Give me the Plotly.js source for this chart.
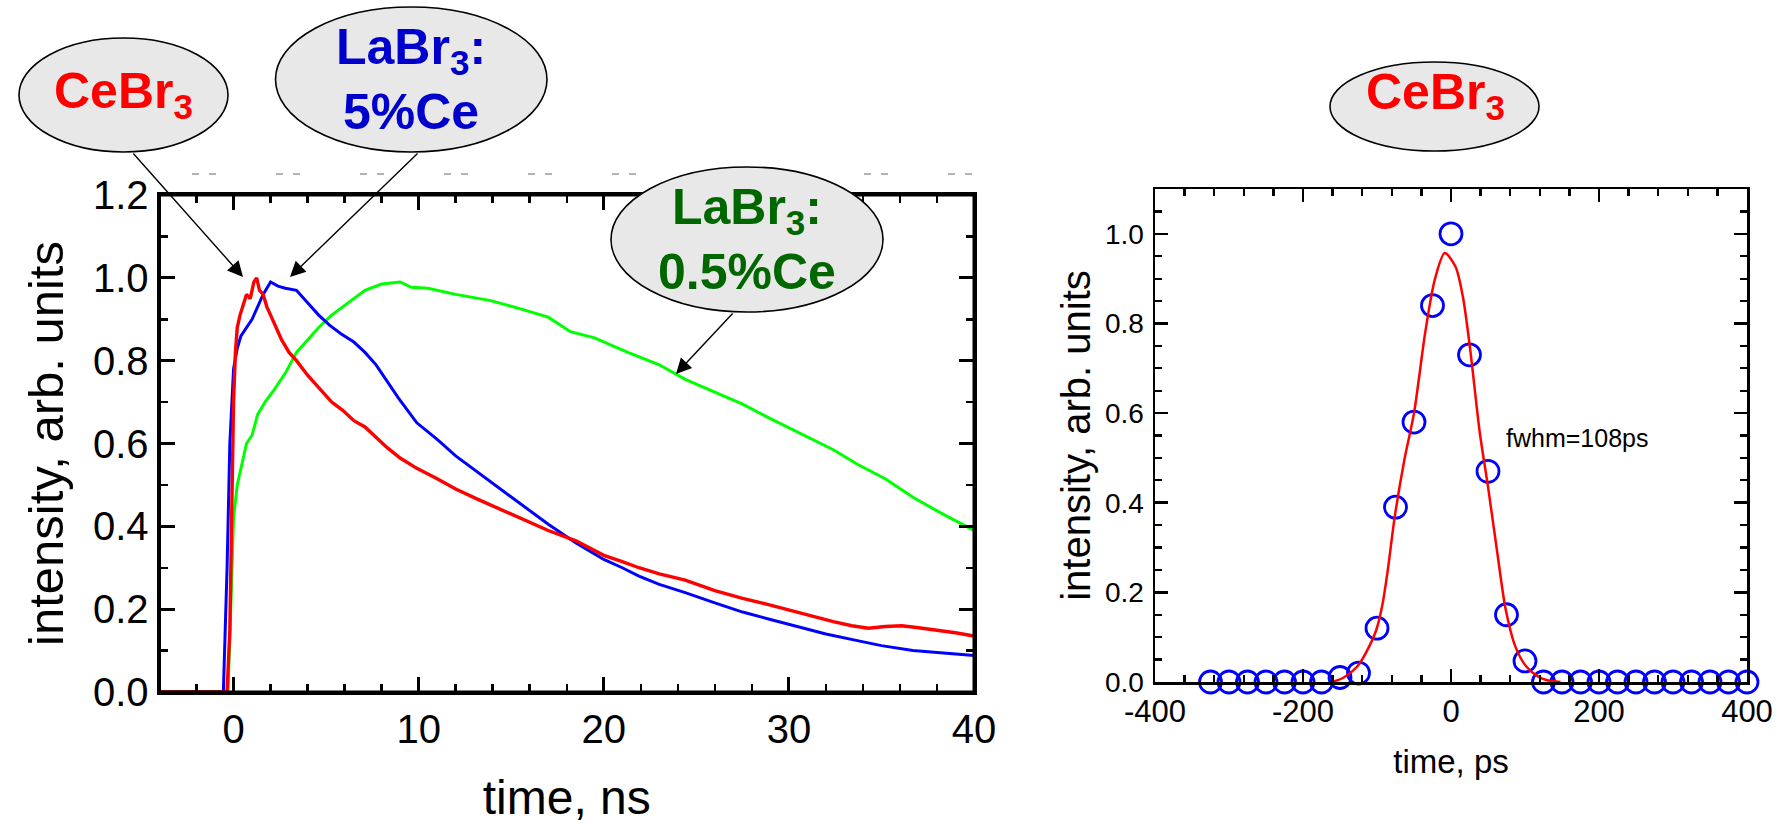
<!DOCTYPE html>
<html><head><meta charset="utf-8">
<script src="https://cdn.plot.ly/plotly-3.0.1.min.js"></script>
<style>html,body{margin:0;padding:0;background:#fff}#chart{width:1789px;height:828px}</style>
</head><body><div id="chart"></div>
<script>
// ---------- data: left panel (decay curves, time in ns) ----------
const tRed = [-4, -0.35, -0.2, -0.1, 0, 0.1, 0.2, 0.35, 0.5, 0.7, 0.9, 1.1, 1.25, 1.4, 1.6, 1.8, 2.0, 2.3, 2.6, 3.0, 3.4, 4.0, 4.6, 5.3, 5.9, 6.5, 7.1, 7.7, 8.3, 9.0, 9.9, 11.0, 12.0, 13.2, 14.5, 15.8, 17.0, 18.5, 20.0, 21.0, 21.9, 23.0, 24.4, 26.0, 27.5, 29.0, 30.0, 31.2, 32.4, 33.4, 34.3, 35.2, 36.1, 37.0, 38.0, 39.0, 40.0];
const yRed = [0, 0, 0.15, 0.45, 0.70, 0.82, 0.88, 0.91, 0.93, 0.96, 0.95, 0.99, 1.0, 0.97, 0.96, 0.93, 0.91, 0.88, 0.85, 0.82, 0.80, 0.765, 0.735, 0.70, 0.68, 0.655, 0.64, 0.615, 0.59, 0.565, 0.54, 0.515, 0.49, 0.465, 0.44, 0.415, 0.39, 0.365, 0.33, 0.315, 0.30, 0.285, 0.27, 0.245, 0.226, 0.21, 0.198, 0.185, 0.17, 0.16, 0.154, 0.158, 0.16, 0.155, 0.15, 0.143, 0.135];

const tBlue = [-4, -0.55, -0.35, -0.2, 0, 0.2, 0.4, 0.7, 1.0, 1.3, 1.6, 2.0, 2.4, 2.8, 3.4, 4.0, 4.6, 5.2, 5.8, 6.5, 7.1, 7.7, 8.3, 8.9, 9.9, 11.0, 12.0, 13.2, 14.5, 15.8, 17.0, 18.5, 20.0, 21.0, 21.9, 23.0, 24.4, 26.0, 27.5, 29.0, 30.6, 32.0, 33.7, 35.0, 36.7, 38.3, 40.0];
const yBlue = [0, 0, 0.3, 0.6, 0.78, 0.83, 0.86, 0.88, 0.9, 0.93, 0.96, 0.99, 0.98, 0.975, 0.97, 0.94, 0.91, 0.885, 0.865, 0.845, 0.82, 0.79, 0.75, 0.71, 0.65, 0.61, 0.57, 0.53, 0.487, 0.445, 0.405, 0.36, 0.32, 0.3, 0.28, 0.26, 0.24, 0.215, 0.193, 0.175, 0.157, 0.14, 0.124, 0.112, 0.10, 0.094, 0.088];

const tGreen = [-4, -0.3, -0.15, 0, 0.2, 0.4, 0.7, 1.0, 1.3, 1.7, 2.2, 2.8, 3.4, 4.0, 4.6, 5.3, 5.9, 6.5, 7.1, 8.0, 9.0, 9.6, 10.5, 12.0, 13.9, 15.5, 17.0, 18.2, 19.5, 21.3, 23.0, 24.4, 26.0, 27.5, 29.0, 30.6, 32.4, 33.7, 35.2, 36.7, 38.3, 40.0];
const yGreen = [0, 0, 0.2, 0.42, 0.5, 0.54, 0.6, 0.62, 0.67, 0.7, 0.73, 0.77, 0.82, 0.85, 0.88, 0.91, 0.93, 0.95, 0.97, 0.985, 0.99, 0.977, 0.975, 0.96, 0.945, 0.925, 0.905, 0.87, 0.855, 0.82, 0.79, 0.755, 0.725, 0.695, 0.66, 0.625, 0.585, 0.55, 0.515, 0.47, 0.43, 0.39];

// ---------- data: right panel (time resolution, ps) ----------
const psX = [-325, -300, -275, -250, -225, -200, -175, -150, -125, -100, -75, -50, -25, 0, 25, 50, 75, 100, 125, 150, 175, 200, 225, 250, 275, 300, 325, 350, 375, 400];
const psY = [0, 0, 0, 0, 0, 0, 0, 0.01, 0.02, 0.12, 0.39, 0.58, 0.84, 1.0, 0.73, 0.47, 0.15, 0.047, 0, 0, 0, 0, 0, 0, 0, 0, 0, 0, 0, 0];
const fitX = [-160, -145, -127, -115, -101, -93, -86, -76, -63, -50, -35, -22, -8.5, 6, 16, 26, 39, 50, 62, 74, 87, 102, 118, 130, 148];
const fitY = [0, 0.01, 0.034, 0.065, 0.116, 0.17, 0.243, 0.369, 0.496, 0.60, 0.778, 0.897, 0.957, 0.927, 0.86, 0.741, 0.555, 0.436, 0.295, 0.161, 0.079, 0.034, 0.012, 0.004, 0];

// ---------- tick labels ----------
const leftXTicks = [0, 10, 20, 30, 40];
const leftYTicks = [0, 0.2, 0.4, 0.6, 0.8, 1.0, 1.2];
const rightXTicks = [-400, -200, 0, 200, 400];
const rightXText = ['-400', '-200', '0', '200', '400'];
const rightYTicks = [0, 0.2, 0.4, 0.6, 0.8, 1.0];
const labelCe = '<b>CeBr<sub>3</sub></b>';
const labelLa5 = '<b>LaBr<sub>3</sub>:<br>5%Ce</b>';
const labelLa05 = '<b>LaBr<sub>3</sub>:<br>0.5%Ce</b>';
const fwhmText = 'fwhm=108ps';

// ---------- layout helpers ----------
const W = 1789, H = 828;
const px = v => v / W;
const py = v => 1 - v / H;
const FONT = 'Liberation Sans, Arial, Helvetica, sans-serif';

const traces = [
  {x: tGreen, y: yGreen, xaxis: 'x', yaxis: 'y', mode: 'lines', line: {color: '#00ff00', width: 3}, name: 'LaBr3:0.5%Ce'},
  {x: tBlue, y: yBlue, xaxis: 'x', yaxis: 'y', mode: 'lines', line: {color: '#0000ff', width: 3}, name: 'LaBr3:5%Ce'},
  {x: tRed, y: yRed, xaxis: 'x', yaxis: 'y', mode: 'lines', line: {color: '#ff0000', width: 3.4}, name: 'CeBr3'},
  // empty helper traces so the top / right frame axes of the left panel get drawn
  {x: [], y: [], xaxis: 'x3', yaxis: 'y', mode: 'lines', hoverinfo: 'skip', name: 'top frame'},
  {x: [], y: [], xaxis: 'x', yaxis: 'y3', mode: 'lines', hoverinfo: 'skip', name: 'right frame'},
  {x: psX, y: psY, xaxis: 'x2', yaxis: 'y2', mode: 'markers', cliponaxis: false,
   marker: {symbol: 'circle-open', size: 22, color: '#0000ff', line: {width: 2.8, color: '#0000ff'}}, name: 'data'},
  {x: fitX, y: fitY, xaxis: 'x2', yaxis: 'y2', mode: 'lines', line: {color: '#ff0000', width: 2.5, shape: 'spline', smoothing: 0.8}, name: 'fit'}
];

const leftXStyle = {
  range: [-4, 40], showgrid: false, zeroline: false, showline: true, linecolor: '#000', linewidth: 3, mirror: false,
  ticks: 'inside', ticklen: 15, tickwidth: 3, tickcolor: '#000',
  minor: {dtick: 2, ticks: 'inside', ticklen: 8, tickwidth: 2.5, tickcolor: '#000'},
  tickmode: 'array', tickvals: leftXTicks, ticktext: leftXTicks.map(String)
};
const leftYStyle = {
  range: [0, 1.2], showgrid: false, zeroline: false, showline: true, linecolor: '#000', linewidth: 3, mirror: false,
  ticks: 'inside', ticklen: 15, tickwidth: 3, tickcolor: '#000',
  minor: {dtick: 0.1, ticks: 'inside', ticklen: 8, tickwidth: 2.5, tickcolor: '#000'},
  tickmode: 'array', tickvals: leftYTicks, ticktext: leftYTicks.map(v => v.toFixed(1))
};

const layout = {
  width: W, height: H,
  margin: {l: 0, r: 0, t: 0, b: 0},
  paper_bgcolor: '#fff', plot_bgcolor: '#fff',
  showlegend: false,
  font: {family: FONT, color: '#000'},
  xaxis: Object.assign({}, leftXStyle, {
    domain: [px(159.5), px(974)], anchor: 'y', side: 'bottom',
    tickfont: {size: 40, family: FONT},
    title: {text: 'time, ns', font: {size: 48, family: FONT}, standoff: 31}
  }),
  xaxis3: Object.assign({}, leftXStyle, {
    overlaying: 'x', anchor: 'y', side: 'top', showticklabels: false
  }),
  yaxis: Object.assign({}, leftYStyle, {
    domain: [py(692), py(195)], anchor: 'x', side: 'left',
    tickfont: {size: 40, family: FONT},
    title: {text: 'intensity, arb. units', font: {size: 49, family: FONT}, standoff: 14}
  }),
  yaxis3: Object.assign({}, leftYStyle, {
    overlaying: 'y', anchor: 'x', side: 'right', showticklabels: false
  }),
  xaxis2: {
    domain: [px(1155), px(1747)], anchor: 'y2', range: [-400, 400],
    showgrid: false, zeroline: false, showline: true, linecolor: '#000', linewidth: 2.5, mirror: 'allticks',
    ticks: 'inside', ticklen: 13, tickwidth: 2.5, tickcolor: '#000',
    minor: {dtick: 40, ticks: 'inside', ticklen: 7, tickwidth: 2.2, tickcolor: '#000'},
    tickmode: 'array', tickvals: rightXTicks, ticktext: rightXText,
    tickfont: {size: 31, family: FONT},
    title: {text: 'time, ps', font: {size: 33, family: FONT}, standoff: 22}
  },
  yaxis2: {
    domain: [py(682), py(189)], anchor: 'x2', range: [0, 1.1],
    showgrid: false, zeroline: false, showline: true, linecolor: '#000', linewidth: 2.5, mirror: 'allticks',
    ticks: 'inside', ticklen: 13, tickwidth: 2.5, tickcolor: '#000',
    minor: {dtick: 0.05, ticks: 'inside', ticklen: 7, tickwidth: 2.2, tickcolor: '#000'},
    tickmode: 'array', tickvals: rightYTicks, ticktext: rightYTicks.map(v => v.toFixed(1)),
    tickfont: {size: 28, family: FONT}, ticklabelstandoff: 3,
    title: {text: 'intensity, arb. units', font: {size: 40, family: FONT}, standoff: 2}
  },
  shapes: [
    // frame of the left panel (guarantees the box outline)
    {type: 'rect', xref: 'paper', yref: 'paper', x0: px(159.5), x1: px(974), y0: py(692), y1: py(195),
     line: {color: '#000', width: 3}, fillcolor: 'rgba(0,0,0,0)', layer: 'above'},
    {type: 'line', xref: 'paper', yref: 'paper', x0: px(192), x1: px(1010), y0: py(174), y1: py(174),
     line: {color: '#9a9a9a', width: 1.5, dash: '7px,10px,7px,60px'}, layer: 'below'},
    {type: 'circle', xref: 'paper', yref: 'paper', x0: px(19), x1: px(228), y0: py(152), y1: py(38),
     fillcolor: '#e8e8e8', line: {color: '#000', width: 1.6}, layer: 'above'},
    {type: 'circle', xref: 'paper', yref: 'paper', x0: px(275.5), x1: px(547), y0: py(152), y1: py(7),
     fillcolor: '#e8e8e8', line: {color: '#000', width: 1.6}, layer: 'above'},
    {type: 'circle', xref: 'paper', yref: 'paper', x0: px(611), x1: px(883), y0: py(312), y1: py(167),
     fillcolor: '#e8e8e8', line: {color: '#000', width: 1.6}, layer: 'above'},
    {type: 'circle', xref: 'paper', yref: 'paper', x0: px(1330), x1: px(1539), y0: py(151), y1: py(62),
     fillcolor: '#e8e8e8', line: {color: '#000', width: 1.6}, layer: 'above'}
  ],
  annotations: [
    {xref: 'paper', yref: 'paper', x: px(243), y: py(277), ax: 132 - 243, ay: 152 - 277, axref: 'pixel', ayref: 'pixel',
     text: '', showarrow: true, arrowhead: 2, arrowsize: 2.2, arrowwidth: 1.4, arrowcolor: '#000', standoff: 0, startstandoff: 0},
    {xref: 'paper', yref: 'paper', x: px(290), y: py(277), ax: 419 - 290, ay: 152 - 277, axref: 'pixel', ayref: 'pixel',
     text: '', showarrow: true, arrowhead: 2, arrowsize: 2.2, arrowwidth: 1.4, arrowcolor: '#000', standoff: 0, startstandoff: 0},
    {xref: 'paper', yref: 'paper', x: px(676), y: py(374), ax: 734 - 676, ay: 312 - 374, axref: 'pixel', ayref: 'pixel',
     text: '', showarrow: true, arrowhead: 2, arrowsize: 2.2, arrowwidth: 1.4, arrowcolor: '#000', standoff: 0, startstandoff: 0},
    {xref: 'paper', yref: 'paper', x: px(123), y: py(95), xanchor: 'center', yanchor: 'middle', showarrow: false,
     text: labelCe, font: {size: 50, color: '#ff0000', family: FONT}},
    {xref: 'paper', yref: 'paper', x: px(411), y: py(80), xanchor: 'center', yanchor: 'middle', showarrow: false,
     text: labelLa5, font: {size: 50, color: '#0000cc', family: FONT}},
    {xref: 'paper', yref: 'paper', x: px(747), y: py(240), xanchor: 'center', yanchor: 'middle', showarrow: false,
     text: labelLa05, font: {size: 50, color: '#006600', family: FONT}},
    {xref: 'paper', yref: 'paper', x: px(1435), y: py(96), xanchor: 'center', yanchor: 'middle', showarrow: false,
     text: labelCe, font: {size: 50, color: '#ff0000', family: FONT}},
    {xref: 'x2', yref: 'y2', x: 72, y: 0.545, xanchor: 'left', yanchor: 'middle', showarrow: false,
     text: fwhmText, font: {size: 25, color: '#000', family: FONT}}
  ]
};

Plotly.newPlot('chart', traces, layout, {displayModeBar: false, staticPlot: true});
</script></body></html>
